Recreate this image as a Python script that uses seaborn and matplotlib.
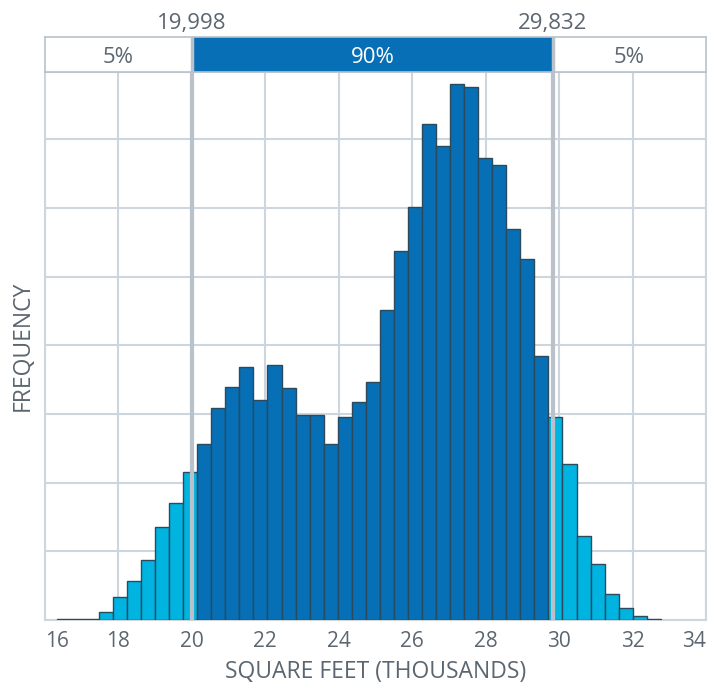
import numpy as np
import pandas as pd
import matplotlib
matplotlib.use("Agg")
import matplotlib.pyplot as plt
import seaborn as sns

# ---- data ----
bin_start = 16.32
bin_end = 32.77
counts = [1, 2, 2, 11, 34, 57, 88, 135, 170, 216,
          256, 309, 340, 368, 320, 372, 338, 298, 298, 257,
          295, 317, 346, 451, 538, 602, 722, 690, 781, 776,
          673, 662, 570, 526, 384, 295, 227, 123, 82, 38,
          18, 6, 1.5]
p5 = 19.998
p95 = 29.832
p_labels = ["19,998", "29,832"]
band_labels = ["5%", "90%", "5%"]
xticks = [16, 18, 20, 22, 24, 26, 28, 30, 32, 34]
xlabel = "SQUARE FEET (THOUSANDS)"
ylabel = "FREQUENCY"

edges = np.linspace(bin_start, bin_end, len(counts) + 1)
centers = (edges[:-1] + edges[1:]) / 2
df = pd.DataFrame({"sqft": centers, "count": counts})

DARK = "#066fb5"
LIGHT = "#00b4e1"
EDGE = "#2b4a5e"
GRID = "#cfd5dc"
PLINE = "#b9c1ca"
TEXT = "#5b6670"

sns.set_theme(style="white")
plt.rcParams["font.family"] = ["Open Sans", "DejaVu Sans"]

fig = plt.figure(figsize=(7.24, 6.83), dpi=100)
W, H = 724, 683
L, R, T, B = 45, 706, 72, 620
ax = fig.add_axes([L / W, 1 - B / H, (R - L) / W, (B - T) / H])
band = fig.add_axes([L / W, 1 - T / H, (R - L) / W, 35 / H], sharex=ax)

sns.histplot(data=df, x="sqft", weights="count", bins=list(edges), ax=ax,
             color=DARK, edgecolor=EDGE, linewidth=1.0, alpha=1.0, zorder=3)
for p in ax.patches:
    c = p.get_x() + p.get_width() / 2
    p.set_facecolor(DARK if p5 <= c <= p95 else LIGHT)

ax.set_xlim(16, 34)
ax.set_ylim(0, 798)
ax.set_xticks(xticks)
ax.set_yticks(np.arange(0, 800, 100))
ax.set_yticklabels([])
ax.tick_params(axis="y", length=0)
ax.tick_params(axis="x", length=0, labelsize=15, colors=TEXT, pad=8)
ax.grid(True, color=GRID, linewidth=1.5, zorder=0)
ax.set_axisbelow(True)
for s in ax.spines.values():
    s.set_color(GRID)
    s.set_linewidth(1.5)
ax.set_xlabel(xlabel, fontsize=16.5, color=TEXT, labelpad=6)
ax.set_ylabel(ylabel, fontsize=16.5, color=TEXT, labelpad=4)
tl = ax.get_xticklabels()
tl[0].set_ha("left")
tl[-1].set_ha("right")

for pv in (p5, p95):
    ax.axvline(pv, color=PLINE, linewidth=3, zorder=5)

# top band
band.set_ylim(0, 1)
band.axvspan(p5, p95, color=DARK, zorder=1)
for pv in (p5, p95):
    band.axvline(pv, color=PLINE, linewidth=2.5, zorder=2)
band.set_yticks([])
band.tick_params(axis="x", length=0, labelbottom=False)
for s in band.spines.values():
    s.set_color(PLINE)
    s.set_linewidth(1.2)
mids = [(16 + p5) / 2, (p5 + p95) / 2, (p95 + 34) / 2]
cols = [TEXT, "white", TEXT]
for m, t, c in zip(mids, band_labels, cols):
    band.text(m, 0.42, t, ha="center", va="center", fontsize=16, color=c)
for pv, t in zip((p5, p95), p_labels):
    band.text(pv, 1.24, t, ha="center", va="baseline", fontsize=16, color=TEXT)

fig.savefig("out.png", dpi=100)
